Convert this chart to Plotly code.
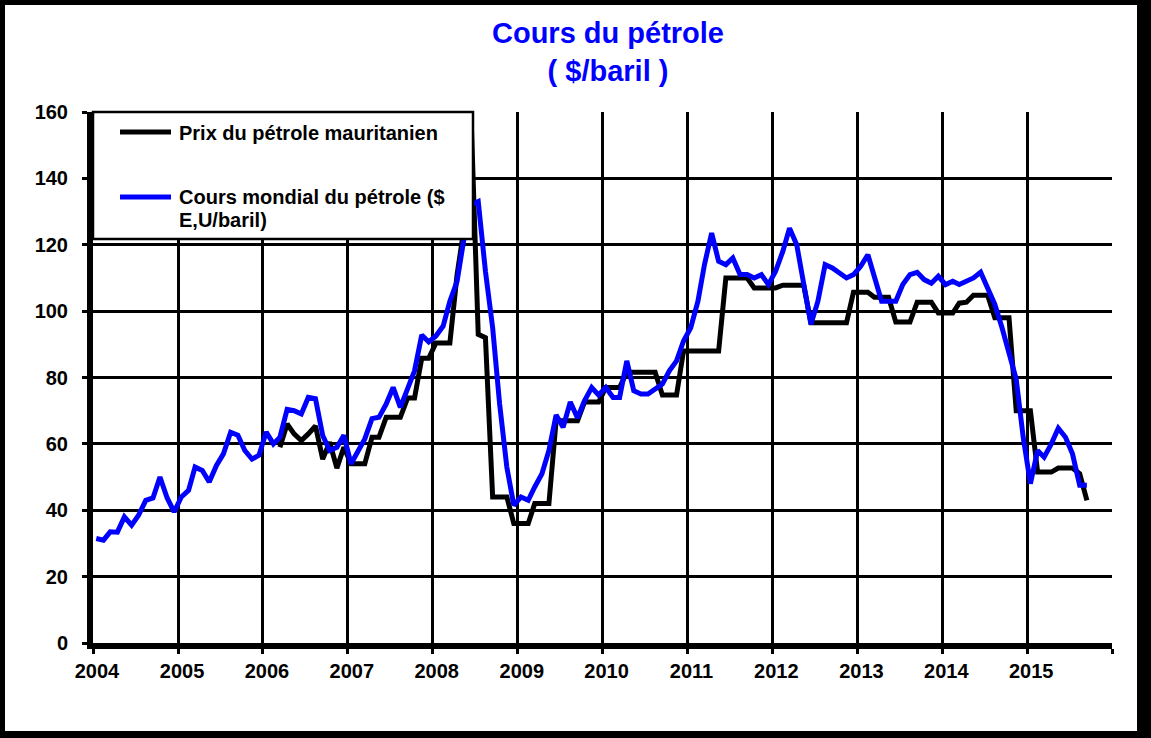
import pandas as pd
import plotly.graph_objects as go

# ---- data -----------------------------------------------------------------
months = pd.date_range("2004-01-01", "2015-09-01", freq="MS") + pd.Timedelta(days=14)

# World oil price (US$/barrel), monthly, Jan 2004 - Sep 2015
world_2004 = [31.5, 31, 33.5, 33.4, 38, 35.5, 38.5, 43, 43.7, 50, 43.7, 39.5]
world_2005 = [44, 46, 53, 52, 48.5, 53.5, 57, 63.5, 62.6, 58, 55.4, 56.6]
world_2006 = [63.6, 60, 62, 70.4, 70, 69, 74, 73.6, 62.5, 58, 59, 62.6]
world_2007 = [54, 58, 61.5, 67.6, 68, 72, 77, 71, 77, 82, 92.8, 90.7]
world_2008 = [92.5, 95.5, 103, 109, 122, 132, 133, 112, 95, 72, 53, 41.5]
world_2009 = [44, 43, 47, 51, 58, 68.7, 65, 72.6, 67.8, 73, 77, 74.7]
world_2010 = [77, 74, 74, 85, 76, 75, 75, 76.5, 78, 82, 85, 91]
world_2011 = [95, 103, 114, 123.5, 115, 114, 116, 111, 111, 110, 111, 108]
world_2012 = [112, 118, 125, 120, 109, 96, 103, 114, 113, 111.5, 110, 111]
world_2013 = [113.5, 117, 110, 103, 103, 103, 108, 111, 111.7, 109.5, 108.4, 110.5]
world_2014 = [108, 109, 108, 109, 110, 111.7, 106.5, 102, 95, 87.5, 79.5, 62]
world_2015 = [48, 58, 56, 60, 64.7, 62, 57, 47.5, 47.5]

# Mauritanian oil price, monthly (starts March 2006)
maur_2004 = [None] * 12
maur_2005 = [None] * 12
maur_2006 = [None, None, 59, 66, 63, 61, 63, 65.4, 55.4, 60.5, 52.7, 59]
maur_2007 = [54, 54, 54, 62, 62, 68, 68, 68, 73.8, 73.8, 85.8, 85.8]
maur_2008 = [90.4, 90.4, 90.4, 111, 125, 157, 93, 92, 44, 44, 44, 36]
maur_2009 = [36, 36, 42, 42, 42, 67, 67, 67, 67, 72.6, 72.6, 72.6]
maur_2010 = [77, 77, 77, 81.6, 81.6, 81.6, 81.6, 81.6, 74.7, 74.7, 74.7, 88]
maur_2011 = [88, 88, 88, 88, 88, 110, 110, 110, 110, 107, 107, 107]
maur_2012 = [107, 107.8, 107.8, 107.8, 107.8, 96.5, 96.5, 96.5, 96.5, 96.5, 96.5, 105.7]
maur_2013 = [105.7, 105.7, 104.2, 104.2, 104.2, 96.7, 96.7, 96.7, 102.7, 102.7, 102.7, 99.4]
maur_2014 = [99.4, 99.4, 102.4, 102.7, 104.8, 104.8, 104.8, 98, 98, 98, 70, 70]
maur_2015 = [70, 51.5, 51.5, 51.5, 52.7, 52.7, 52.7, 51, 43]

world = (world_2004 + world_2005 + world_2006 + world_2007 + world_2008 + world_2009
         + world_2010 + world_2011 + world_2012 + world_2013 + world_2014 + world_2015)
maur = (maur_2004 + maur_2005 + maur_2006 + maur_2007 + maur_2008 + maur_2009
        + maur_2010 + maur_2011 + maur_2012 + maur_2013 + maur_2014 + maur_2015)

year_ticks = [f"{y}-01-01" for y in range(2004, 2017)]
year_labels = [str(y) for y in range(2004, 2016)] + [""]

name_maur = "Prix du pétrole mauritanien"
name_world_1 = "Cours mondial du pétrole ($"
name_world_2 = "E,U/baril)"
title_text = "Cours du pétrole<br>( $/baril )"

# ---- layout geometry ----------------------------------------------------------
W, H = 1151, 738
L, R, T, B = 93, 39, 112, 95
PW, PH = W - L - R, H - T - B


def px(x):
    return (x - L) / PW


def py(y):
    return (H - B - y) / PH


FONT = "Arial, Liberation Sans, sans-serif"

fig = go.Figure()
fig.add_trace(go.Scatter(x=months, y=maur, mode="lines", name=name_maur,
                         line=dict(color="black", width=5), connectgaps=False,
                         showlegend=False))
fig.add_trace(go.Scatter(x=months, y=world, mode="lines",
                         name=name_world_1 + " " + name_world_2,
                         line=dict(color="#0000FF", width=5), showlegend=False))

shapes = []
# outer frame
for x0, x1, y0, y1 in [(0, 5, 0, H), (1137, W, 0, H), (0, W, 0, 5), (0, W, 731, H)]:
    shapes.append(dict(type="rect", xref="paper", yref="paper",
                       x0=px(x0), x1=px(x1), y0=py(y1), y1=py(y0),
                       fillcolor="black", line=dict(width=0), layer="above"))
# legend box
shapes.append(dict(type="rect", xref="paper", yref="paper",
                   x0=px(93), x1=px(473), y0=py(239), y1=py(112),
                   fillcolor="white", line=dict(color="black", width=2.5), layer="above"))
shapes.append(dict(type="line", xref="paper", yref="paper",
                   x0=px(120), x1=px(171), y0=py(132), y1=py(132),
                   line=dict(color="black", width=5), layer="above"))
shapes.append(dict(type="line", xref="paper", yref="paper",
                   x0=px(120), x1=px(171), y0=py(197), y1=py(197),
                   line=dict(color="#0000FF", width=5), layer="above"))

annotations = [
    dict(x=px(177), y=py(133), xref="paper", yref="paper", text=name_maur,
         showarrow=False, xanchor="left", yanchor="middle",
         font=dict(family=FONT, size=20, color="black", weight="bold")),
    dict(x=px(177), y=py(197), xref="paper", yref="paper", text=name_world_1,
         showarrow=False, xanchor="left", yanchor="middle",
         font=dict(family=FONT, size=20, color="black", weight="bold")),
    dict(x=px(177), y=py(220), xref="paper", yref="paper", text=name_world_2,
         showarrow=False, xanchor="left", yanchor="middle",
         font=dict(family=FONT, size=20, color="black", weight="bold")),
]

fig.update_layout(
    width=W, height=H,
    margin=dict(l=L, r=R, t=T, b=B, pad=0),
    paper_bgcolor="white", plot_bgcolor="white",
    title=dict(text=title_text, x=px(608), xref="paper", xanchor="center",
               y=1 - 43 / H, yref="container", yanchor="middle",
               font=dict(family=FONT, size=29, color="#0000FF", weight="bold")),
    shapes=shapes, annotations=annotations, showlegend=False,
)
fig.update_xaxes(
    type="date", range=["2004-01-01", "2016-01-01"],
    tickmode="array", tickvals=year_ticks, ticktext=year_labels,
    showgrid=True, gridcolor="black", gridwidth=3,
    showline=True, linecolor="black", linewidth=6,
    ticks="outside", ticklen=5, tickwidth=3, tickcolor="black",
    ticklabelshift=4, ticklabelstandoff=0,
    tickfont=dict(family=FONT, size=20, color="black", weight="bold"),
    zeroline=False,
)
fig.update_yaxes(
    range=[0, 160], tickmode="linear", tick0=0, dtick=20,
    showgrid=True, gridcolor="black", gridwidth=3,
    showline=True, linecolor="black", linewidth=6,
    ticks="outside", ticklen=5, tickwidth=3, tickcolor="black",
    ticklabelstandoff=10,
    tickfont=dict(family=FONT, size=20, color="black", weight="bold"),
    zeroline=False,
)

fig.write_html("out.html", config={"displayModeBar": False},
               post_script="document.body.style.margin='0px';document.body.style.padding='0px';")
